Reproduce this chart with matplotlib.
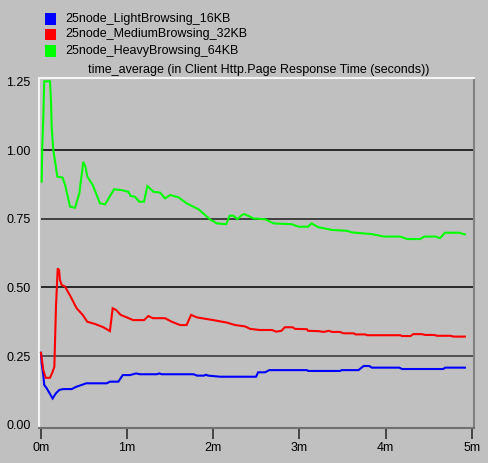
import matplotlib
matplotlib.use("Agg")
import matplotlib.pyplot as plt
from matplotlib.patches import Rectangle

# time in minutes, page response time in seconds
light_t = [0.0, 0.008, 0.027, 0.038, 0.066, 0.135, 0.174, 0.213, 0.259, 0.356,
           0.414, 0.472, 0.523, 0.763, 0.80, 0.898, 0.949, 1.034, 1.103, 1.15,
           1.344, 1.374, 1.40, 1.77, 1.81, 1.89, 1.917, 1.94, 2.08, 2.497,
           2.52, 2.60, 2.65, 3.086, 3.10, 3.47, 3.49, 3.685, 3.745, 3.81,
           3.84, 4.16, 4.19, 4.67, 4.69, 4.92]
light_v = [0.262, 0.224, 0.181, 0.145, 0.133, 0.096, 0.115, 0.127, 0.130, 0.130,
           0.139, 0.145, 0.151, 0.151, 0.157, 0.157, 0.181, 0.181, 0.187, 0.184,
           0.184, 0.187, 0.184, 0.184, 0.179, 0.179, 0.182, 0.179, 0.175, 0.175,
           0.191, 0.191, 0.199, 0.199, 0.196, 0.196, 0.199, 0.199, 0.214, 0.214,
           0.208, 0.208, 0.203, 0.203, 0.208, 0.208]

medium_t = [0.0, 0.027, 0.055, 0.105, 0.135, 0.155, 0.174, 0.194, 0.21, 0.22,
            0.24, 0.279, 0.345, 0.414, 0.484, 0.538, 0.627, 0.724, 0.80, 0.832,
            0.871, 0.925, 0.995, 1.07, 1.196, 1.246, 1.297, 1.44, 1.518, 1.614,
            1.69, 1.742, 1.808, 2.00, 2.157, 2.254, 2.37, 2.427, 2.54, 2.68,
            2.73, 2.79, 2.83, 2.92, 2.95, 3.086, 3.10, 3.22, 3.28, 3.34,
            3.38, 3.47, 3.51, 3.63, 3.65, 3.76, 3.79, 4.17, 4.19, 4.29,
            4.32, 4.42, 4.46, 4.56, 4.60, 4.75, 4.79, 4.92]
medium_v = [0.262, 0.199, 0.171, 0.171, 0.193, 0.211, 0.430, 0.569, 0.563, 0.527,
            0.509, 0.503, 0.466, 0.424, 0.400, 0.375, 0.367, 0.355, 0.341, 0.424,
            0.418, 0.400, 0.391, 0.381, 0.381, 0.396, 0.388, 0.388, 0.375, 0.363,
            0.363, 0.400, 0.391, 0.381, 0.372, 0.363, 0.358, 0.349, 0.345, 0.345,
            0.339, 0.342, 0.355, 0.355, 0.349, 0.348, 0.342, 0.341, 0.338, 0.342,
            0.338, 0.338, 0.333, 0.333, 0.329, 0.329, 0.326, 0.326, 0.323, 0.323,
            0.330, 0.330, 0.327, 0.327, 0.324, 0.324, 0.321, 0.321]

heavy_t = [0.008, 0.014, 0.027, 0.038, 0.105, 0.117, 0.124, 0.143, 0.19, 0.25,
           0.28, 0.337, 0.395, 0.445, 0.491, 0.515, 0.538, 0.60, 0.685, 0.743,
           0.848, 0.937, 1.014, 1.04, 1.09, 1.14, 1.196, 1.235, 1.305, 1.382,
           1.44, 1.50, 1.595, 1.69, 1.83, 1.96, 2.04, 2.15, 2.19, 2.234,
           2.28, 2.33, 2.36, 2.466, 2.60, 2.70, 2.91, 2.99, 3.10, 3.14,
           3.22, 3.38, 3.55, 3.61, 3.84, 3.98, 4.17, 4.25, 4.40, 4.45,
           4.58, 4.63, 4.69, 4.85, 4.92]
heavy_v = [0.885, 1.0, 1.12, 1.25, 1.25, 1.17, 1.085, 1.0, 0.903, 0.90,
           0.873, 0.794, 0.79, 0.842, 0.957, 0.94, 0.903, 0.873, 0.806, 0.802,
           0.857, 0.854, 0.848, 0.833, 0.830, 0.812, 0.812, 0.869, 0.848, 0.845,
           0.824, 0.836, 0.828, 0.806, 0.784, 0.748, 0.733, 0.730, 0.761, 0.761,
           0.748, 0.763, 0.767, 0.751, 0.748, 0.733, 0.730, 0.721, 0.721, 0.733,
           0.719, 0.709, 0.706, 0.700, 0.694, 0.685, 0.685, 0.676, 0.676, 0.685,
           0.685, 0.679, 0.699, 0.699, 0.693]

series_names = ["25node_LightBrowsing_16KB", "25node_MediumBrowsing_32KB",
                "25node_HeavyBrowsing_64KB"]
series_colors = ["#0000ff", "#ff0000", "#00ff00"]
x_ticks = [0, 1, 2, 3, 4, 5]
x_labels = ["0m", "1m", "2m", "3m", "4m", "5m"]
y_ticks = [0.0, 0.25, 0.5, 0.75, 1.0, 1.25]
y_labels = ["0.00", "0.25", "0.50", "0.75", "1.00", "1.25"]
chart_title = "time_average (in Client Http.Page Response Time (seconds))"

bg = "#c0c0c0"
plt.rcParams["font.family"] = ["Liberation Sans", "DejaVu Sans"]

fig = plt.figure(figsize=(4.88, 4.63), dpi=100, facecolor=bg)
W, H = 488, 463
ax = fig.add_axes([39 / W, 1 - 428 / H, (473.5 - 39) / W, (428 - 78) / H])
ax.set_facecolor(bg)

ax.set_xlim(-0.023, 5.02)
ax.set_ylim(-0.0116, 1.262)

# horizontal reference lines
for y, c, lw in [(1.0, "#000000", 1.1), (0.75, "#404040", 1.4),
                 (0.5, "#000000", 1.1), (0.25, "#505050", 1.4)]:
    ax.hlines(y, 0, 5.02, colors=c, linewidth=lw, zorder=1)

for t, v, c in zip([light_t, medium_t, heavy_t], [light_v, medium_v, heavy_v],
                   series_colors[:3]):
    ax.plot(t, v, color=c, linewidth=1.5, zorder=3, solid_joinstyle="miter")

ax.set_xticks(x_ticks)
ax.set_xticklabels(x_labels)
ax.set_yticks(y_ticks)
ax.set_yticklabels(y_labels)
ax.tick_params(axis="x", length=8, width=1.2, color="#303030", pad=2,
               labelsize=9, labelcolor="#000000")
ax.tick_params(axis="y", length=0, pad=6, labelsize=9, labelcolor="#000000")

ax.spines["left"].set_color("#f4f4f4")
ax.spines["top"].set_color("#f4f4f4")
ax.spines["right"].set_color("#808080")
ax.spines["bottom"].set_color("#707070")
for s in ax.spines.values():
    s.set_linewidth(1.5)

# legend drawn as coloured squares with text
rows_y = [19, 34.5, 51]
for name, c, yp in zip(series_names, series_colors, rows_y):
    fig.patches.append(Rectangle((45 / W, 1 - (yp + 5.5) / H), 11 / W, 11 / H,
                                 transform=fig.transFigure, facecolor=c,
                                 edgecolor="none"))
    fig.text(65 / W, 1 - yp / H, name, fontsize=9, va="center", ha="left")
fig.text(88 / W, 1 - 70 / H, chart_title, fontsize=9, va="center", ha="left")

fig.savefig("out.png", dpi=100, facecolor=bg)
